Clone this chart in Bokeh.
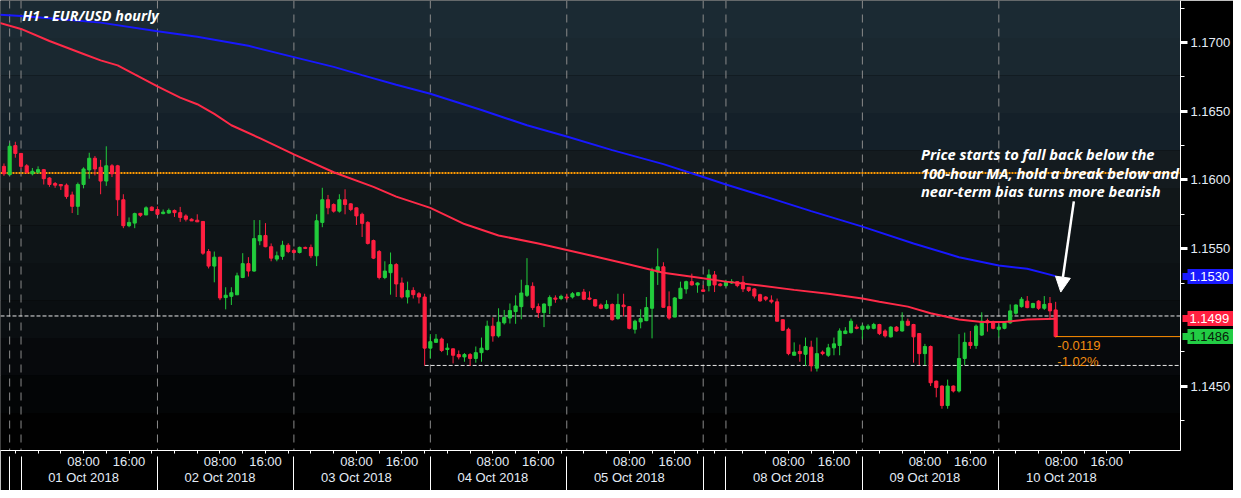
import numpy as np
from bokeh.plotting import figure
from bokeh.models import (Range1d, LinearAxis, FixedTicker, Span, Label, Arrow, NormalHead,
                          ColumnDataSource, NumeralTickFormatter)
from bokeh.core.properties import value
from bokeh.embed import file_html
from bokeh.resources import INLINE

# ---------------- data (hourly EUR/USD, hour index from 01 Oct session start) ----------------
hours = list(range(-3, 183))
opens = [1.16099, 1.16038, 1.16250, 1.16193,
         1.16103, 1.16045, 1.16056, 1.16075, 1.16014, 1.15974, 1.15967, 1.15962, 1.15891, 1.15808,
         1.15967, 1.16073, 1.16158, 1.16092, 1.15992, 1.16103, 1.16103, 1.15856, 1.15667, 1.15686,
         1.15757, 1.15745, 1.15802, 1.15785, 1.15755, 1.15759, 1.15778, 1.15762, 1.15738, 1.15714,
         1.15707, 1.15698, 1.15479, 1.15373, 1.15438, 1.15144, 1.15153, 1.15164, 1.15290, 1.15391,
         1.15337, 1.15557, 1.15596, 1.15514, 1.15424, 1.15444, 1.15525, 1.15486, 1.15472, 1.15509,
         1.15509, 1.15448, 1.15691, 1.15856, 1.15821, 1.15773, 1.15856, 1.15826, 1.15797, 1.15750,
         1.15691, 1.15559, 1.15479, 1.15290, 1.15325, 1.15384, 1.15250, 1.15148, 1.15196, 1.15172,
         1.15148, 1.14776, 1.14818, 1.14842, 1.14766, 1.14771, 1.14729, 1.14712, 1.14729, 1.14701,
         1.14743, 1.14766, 1.14936, 1.14865, 1.14960, 1.14995, 1.15042, 1.15078, 1.15160, 1.15226,
         1.15078, 1.15035, 1.15085, 1.15141, 1.15137, 1.15148, 1.15148, 1.15160, 1.15184, 1.15141,
         1.15129, 1.15090, 1.15066, 1.15094, 1.14991, 1.15090, 1.15078, 1.14913, 1.14967, 1.14976,
         1.15066, 1.15330, 1.15368, 1.15078, 1.15002, 1.15137, 1.15207, 1.15260, 1.15236, 1.15200,
         1.15231, 1.15309, 1.15243, 1.15231, 1.15250, 1.15260, 1.15255, 1.15219, 1.15207, 1.15165,
         1.15148, 1.15125, 1.15113, 1.14983, 1.14913, 1.14724, 1.14752, 1.14731, 1.14783, 1.14630,
         1.14747, 1.14724, 1.14778, 1.14795, 1.14882, 1.14889, 1.14929, 1.14913, 1.14920, 1.14920,
         1.14948, 1.14901, 1.14858, 1.14929, 1.14901, 1.14972, 1.14948, 1.14882, 1.14736, 1.14788,
         1.14536, 1.14500, 1.14358, 1.14500, 1.14464, 1.14701, 1.14818, 1.14795, 1.14871, 1.14976,
         1.14960, 1.14913, 1.14920, 1.14960, 1.15030, 1.15078, 1.15118, 1.15071, 1.15118, 1.15066,
         1.15101, 1.15054]
highs = [1.16120, 1.16268, 1.16278, 1.16195,
         1.16115, 1.16087, 1.16099, 1.16080, 1.16021, 1.15985, 1.15970, 1.15974, 1.15915, 1.15981,
         1.16092, 1.16198, 1.16174, 1.16146, 1.16245, 1.16115, 1.16110, 1.15896, 1.15727, 1.15762,
         1.15760, 1.15808, 1.15808, 1.15808, 1.15785, 1.15792, 1.15785, 1.15804, 1.15750, 1.15721,
         1.15750, 1.15700, 1.15497, 1.15479, 1.15440, 1.15219, 1.15219, 1.15325, 1.15467, 1.15438,
         1.15708, 1.15708, 1.15686, 1.15538, 1.15479, 1.15557, 1.15540, 1.15500, 1.15515, 1.15515,
         1.15530, 1.15750, 1.15943, 1.15891, 1.15830, 1.15896, 1.15932, 1.15830, 1.15800, 1.15762,
         1.15700, 1.15566, 1.15490, 1.15408, 1.15472, 1.15395, 1.15290, 1.15260, 1.15219, 1.15184,
         1.15172, 1.14878, 1.14878, 1.14853, 1.14811, 1.14773, 1.14759, 1.14740, 1.14740, 1.14788,
         1.14853, 1.14976, 1.14999, 1.15066, 1.15054, 1.15101, 1.15160, 1.15274, 1.15431, 1.15255,
         1.15101, 1.15101, 1.15160, 1.15160, 1.15165, 1.15172, 1.15184, 1.15184, 1.15207, 1.15189,
         1.15132, 1.15101, 1.15125, 1.15101, 1.15172, 1.15172, 1.15080, 1.14983, 1.15059, 1.15148,
         1.15361, 1.15502, 1.15401, 1.15189, 1.15148, 1.15260, 1.15267, 1.15318, 1.15255, 1.15236,
         1.15349, 1.15337, 1.15250, 1.15274, 1.15278, 1.15262, 1.15302, 1.15219, 1.15212, 1.15172,
         1.15155, 1.15160, 1.15137, 1.14985, 1.14925, 1.14818, 1.14802, 1.14853, 1.14830, 1.14853,
         1.14759, 1.14807, 1.14853, 1.14920, 1.14929, 1.14991, 1.14948, 1.14948, 1.14950, 1.14960,
         1.14953, 1.14913, 1.14936, 1.14936, 1.15037, 1.14991, 1.14953, 1.14885, 1.14807, 1.14795,
         1.14540, 1.14505, 1.14547, 1.14505, 1.14878, 1.14889, 1.14901, 1.14948, 1.15037, 1.14991,
         1.14976, 1.14948, 1.14972, 1.15094, 1.15094, 1.15148, 1.15155, 1.15106, 1.15125, 1.15155,
         1.15148, 1.15113]
lows = [1.16030, 1.16033, 1.16162, 1.16080,
        1.16045, 1.16033, 1.16045, 1.15967, 1.15950, 1.15943, 1.15927, 1.15863, 1.15759, 1.15745,
        1.15939, 1.16009, 1.16033, 1.15896, 1.15957, 1.16021, 1.15738, 1.15649, 1.15656, 1.15649,
        1.15731, 1.15745, 1.15773, 1.15745, 1.15750, 1.15755, 1.15731, 1.15695, 1.15698, 1.15702,
        1.15695, 1.15455, 1.15356, 1.15255, 1.15125, 1.15058, 1.15090, 1.15164, 1.15285, 1.15297,
        1.15332, 1.15525, 1.15510, 1.15408, 1.15408, 1.15419, 1.15467, 1.15465, 1.15465, 1.15497,
        1.15431, 1.15373, 1.15656, 1.15750, 1.15762, 1.15762, 1.15750, 1.15773, 1.15672, 1.15585,
        1.15530, 1.15424, 1.15276, 1.15278, 1.15165, 1.15148, 1.15137, 1.15101, 1.15137, 1.15101,
        1.14649, 1.14701, 1.14816, 1.14747, 1.14724, 1.14665, 1.14694, 1.14677, 1.14647, 1.14670,
        1.14677, 1.14759, 1.14823, 1.14853, 1.14948, 1.14955, 1.14953, 1.14986, 1.15148, 1.15054,
        1.14995, 1.14929, 1.15024, 1.15106, 1.15125, 1.15125, 1.15137, 1.15153, 1.15125, 1.15125,
        1.15078, 1.15059, 1.15059, 1.14976, 1.14983, 1.15007, 1.14913, 1.14882, 1.14920, 1.14972,
        1.14847, 1.15236, 1.15073, 1.14983, 1.15002, 1.15132, 1.15172, 1.15231, 1.15179, 1.15184,
        1.15189, 1.15184, 1.15225, 1.15224, 1.15243, 1.15219, 1.15184, 1.15184, 1.15137, 1.15113,
        1.15118, 1.15101, 1.14972, 1.14901, 1.14724, 1.14724, 1.14677, 1.14647, 1.14606, 1.14606,
        1.14724, 1.14712, 1.14724, 1.14724, 1.14878, 1.14882, 1.14913, 1.14842, 1.14908, 1.14913,
        1.14871, 1.14853, 1.14853, 1.14896, 1.14896, 1.14936, 1.14670, 1.14653, 1.14653, 1.14500,
        1.14418, 1.14335, 1.14335, 1.14453, 1.14453, 1.14653, 1.14771, 1.14771, 1.14865, 1.14896,
        1.14913, 1.14853, 1.14913, 1.14953, 1.15019, 1.15071, 1.15066, 1.15066, 1.15054, 1.15054,
        1.14983, 1.14853]
closes = [1.16045, 1.16245, 1.16193, 1.16099,
          1.16056, 1.16063, 1.16075, 1.16009, 1.15967, 1.15962, 1.15957, 1.15879, 1.15808, 1.15967,
          1.16080, 1.16158, 1.16080, 1.15992, 1.16103, 1.16045, 1.15856, 1.15667, 1.15691, 1.15755,
          1.15743, 1.15797, 1.15778, 1.15750, 1.15766, 1.15778, 1.15762, 1.15727, 1.15714, 1.15702,
          1.15695, 1.15467, 1.15373, 1.15438, 1.15141, 1.15161, 1.15179, 1.15302, 1.15391, 1.15337,
          1.15573, 1.15596, 1.15514, 1.15431, 1.15448, 1.15525, 1.15479, 1.15472, 1.15509, 1.15502,
          1.15448, 1.15703, 1.15856, 1.15797, 1.15773, 1.15856, 1.15821, 1.15785, 1.15738, 1.15684,
          1.15538, 1.15431, 1.15290, 1.15337, 1.15384, 1.15243, 1.15148, 1.15196, 1.15165, 1.15148,
          1.14776, 1.14823, 1.14842, 1.14759, 1.14776, 1.14724, 1.14712, 1.14729, 1.14701, 1.14743,
          1.14776, 1.14936, 1.14865, 1.14965, 1.15000, 1.15049, 1.15083, 1.15177, 1.15231, 1.15071,
          1.15035, 1.15097, 1.15144, 1.15132, 1.15153, 1.15141, 1.15172, 1.15179, 1.15132, 1.15132,
          1.15083, 1.15066, 1.15094, 1.14983, 1.15094, 1.15078, 1.14920, 1.14972, 1.14991, 1.15071,
          1.15337, 1.15368, 1.15073, 1.14995, 1.15141, 1.15212, 1.15260, 1.15236, 1.15250, 1.15189,
          1.15309, 1.15236, 1.15231, 1.15255, 1.15260, 1.15231, 1.15207, 1.15196, 1.15155, 1.15120,
          1.15132, 1.15113, 1.14972, 1.14906, 1.14736, 1.14747, 1.14736, 1.14788, 1.14647, 1.14736,
          1.14736, 1.14778, 1.14807, 1.14901, 1.14901, 1.14972, 1.14920, 1.14936, 1.14936, 1.14948,
          1.14882, 1.14865, 1.14929, 1.14901, 1.14972, 1.14943, 1.14858, 1.14736, 1.14788, 1.14524,
          1.14489, 1.14358, 1.14500, 1.14464, 1.14701, 1.14818, 1.14795, 1.14936, 1.14972, 1.14960,
          1.14920, 1.14929, 1.14960, 1.15047, 1.15090, 1.15132, 1.15071, 1.15101, 1.15066, 1.15094,
          1.15047, 1.14860]

# 100-hour MA (red) and 200-hour MA (blue)
ma100_t = [-4, 0, 5, 11, 14, 17, 20, 24, 28, 31, 34, 37, 42, 48, 55, 62, 66, 72, 78, 84, 91, 96,
           101, 107, 113, 119, 124, 130, 136, 142, 148, 151, 156, 160, 165, 169, 173, 177, 182]
ma100_v = [1.17146, 1.17099, 1.17011, 1.16917, 1.16870, 1.16834, 1.16768, 1.16681, 1.16599, 1.16551,
           1.16481, 1.16398, 1.16304, 1.16186, 1.16056, 1.15950, 1.15879, 1.15797, 1.15679, 1.15596,
           1.15537, 1.15490, 1.15443, 1.15384, 1.15325, 1.15290, 1.15260, 1.15231, 1.15200, 1.15172,
           1.15137, 1.15113, 1.15078, 1.15030, 1.14984, 1.14967, 1.14967, 1.14984, 1.14990]
ma200_t = [-4, 0, 5, 14, 24, 31, 40, 48, 55, 60, 66, 72, 81, 89, 96, 104, 113, 120, 124, 130, 139,
           148, 157, 165, 172, 177, 182]
ma200_v = [1.17203, 1.17193, 1.17177, 1.17145, 1.17082, 1.17042, 1.16976, 1.16894, 1.16823, 1.16763,
           1.16693, 1.16627, 1.16509, 1.16398, 1.16316, 1.16217, 1.16115, 1.16021, 1.15967, 1.15891,
           1.15773, 1.15660, 1.15537, 1.15438, 1.15377, 1.15354, 1.15300]

session_start = [0, 24, 48, 72, 96, 124, 148, 172]
session_label = ["01 Oct 2018", "02 Oct 2018", "03 Oct 2018", "04 Oct 2018",
                 "05 Oct 2018", "08 Oct 2018", "09 Oct 2018", "10 Oct 2018"]
day_breaks = [-2, 0, 24, 48, 72, 96, 120, 124, 148, 172]
price_ticks = [1.1450, 1.1550, 1.1600, 1.1650, 1.1700]
price_minor = [1.1425, 1.1475, 1.1525, 1.1575, 1.1625, 1.1675, 1.1725]
ref_close = 1.1605          # orange dotted reference level
resistance = 1.1501         # white dashed level
support = 1.1465            # white dashed level from 04 Oct low
support_from = 71
change_text = ["-0.0119", "-1.02%"]
title = "H1 - EUR/USD hourly"
note = ["Price starts to fall back below the",
        "100-hour MA, hold a break below and",
        "near-term bias turns more bearish"]

# ---------------- figure ----------------
X0, X1 = -3.61, 203.96
Y0, Y1 = 1.14031, 1.17306
W, H = 1233, 490
p = figure(width=W, height=H, output_backend="svg", toolbar_location=None,
           x_range=Range1d(X0, X1), y_range=Range1d(Y0, Y1),
           x_axis_location=None, y_axis_location="right",
           min_border_left=0, min_border_top=0, min_border_right=51, min_border_bottom=34,
           background_fill_color="black", border_fill_color="black", outline_line_color=None)
p.grid.visible = False

# background gradient bands
band_colors = ["#1b2a33", "#1a2830", "#18242c", "#142029", "#141b1f", "#111719",
               "#0e1417", "#0c1114", "#0a0e11", "#07090c", "#030506", "#010101"]
edges = np.linspace(Y1, Y0, len(band_colors) + 1)
bg = p.quad(left=X0 - 5, right=X1 + 5, top=edges[:-1], bottom=edges[1:],
            fill_color=band_colors, line_color=None)
bg.level = "image"

for b in day_breaks:
    p.add_layout(Span(location=b, dimension="height", line_color="#8a8a8a",
                      line_dash="8 6", line_width=1, level="underlay"))

p.add_layout(Span(location=ref_close, dimension="width", line_color="#ff9a00",
                  line_dash="2 1", line_width=2, level="underlay"))
p.add_layout(Span(location=resistance, dimension="width", line_color="#e8e8e8",
                  line_dash="4 2", line_width=1, level="underlay"))
p.segment(x0=[support_from], y0=[support], x1=[X1 + 5], y1=[support],
          line_color="#e8e8e8", line_dash="4 2", line_width=1)

# candles
up = [c >= o for o, c in zip(opens, closes)]
src = ColumnDataSource(dict(
    t=hours, o=opens, h=highs, l=lows, c=closes,
    top=[max(o, c) for o, c in zip(opens, closes)],
    bottom=[min(o, c) for o, c in zip(opens, closes)],
    color=["#22cc3c" if u else "#ff1f40" for u in up]))
p.segment(x0="t", y0="h", x1="t", y1="l", line_color="color", line_width=1, source=src)
p.vbar(x="t", width=0.55, top="top", bottom="bottom", fill_color="color",
       line_color="color", line_width=1, source=src)

# moving averages
p.line(ma200_t, ma200_v, line_color="#1818ff", line_width=2)
p.line(ma100_t, ma100_v, line_color="#ff2a48", line_width=2)

# last price line
p.segment(x0=[hours[-1]], y0=[closes[-1]], x1=[X1 + 5], y1=[closes[-1]],
          line_color="#ff8c00", line_width=1)

# texts
p.add_layout(Label(x=0.2, y=1.17200, text=title, text_color="white",
                   text_font="Open Sans", text_font_style="bold italic",
                   text_font_size="14.3px", text_baseline="middle", text_align="left"))
p.text(x=[158.3] * 3, y=[1.16188, 1.16054, 1.15923], text=note, text_color="white",
       text_font=value("Open Sans"), text_font_style="bold italic", text_font_size="14.7px",
       text_baseline="middle", text_align="left")
p.text(x=[182.3, 182.3], y=[1.14795, 1.14682], text=change_text, text_color="#f08c10",
       text_font=value("Liberation Sans"), text_font_size="13px",
       text_baseline="middle", text_align="left")

p.add_layout(Arrow(x_start=185.2, y_start=1.15844, x_end=182.9, y_end=1.15184,
                   line_color="white", line_width=2.5,
                   end=NormalHead(size=15, fill_color="white", line_color="white")))

# right price axis
ya = p.yaxis[0]
ya.ticker = FixedTicker(ticks=price_ticks, minor_ticks=price_minor)
ya.formatter = NumeralTickFormatter(format="0.0000")
ya.axis_line_color = "white"
ya.major_tick_line_color = "white"
ya.major_tick_line_width = 3
ya.major_tick_out = 7
ya.major_tick_in = 0
ya.minor_tick_line_color = "white"
ya.minor_tick_out = 4
ya.minor_tick_in = 0
ya.major_label_standoff = 3
ya.major_label_text_color = "#e4ecf6"
ya.major_label_text_font = "Liberation Sans"
ya.major_label_text_font_size = "13px"

# coloured value tags (200h MA, 100h MA, last price) as zero-width extra right-hand axes;
# the major tick is the tag box, the (longer, thinner) minor tick forms its pointed end
tags = [(ma200_v[-1], "#1a1aff", "white"),
        (ma100_v[-1], "#ff2040", "white"),
        (closes[-1], "#22cc44", "#08200a")]
for v, fill, tc in tags:
    ta = LinearAxis(ticker=FixedTicker(ticks=[v], minor_ticks=[v]),
                    formatter=NumeralTickFormatter(format="0.0000"),
                    axis_line_color=None,
                    minor_tick_line_color=fill, minor_tick_line_width=7,
                    minor_tick_out=0, minor_tick_in=51,
                    major_tick_line_color=fill, major_tick_line_width=15,
                    major_tick_in=46, major_tick_out=0,
                    major_label_standoff=-44, major_label_text_color=tc,
                    major_label_text_font="Liberation Sans", major_label_text_font_size="13px")
    p.add_layout(ta, "right")

# time axis
ticks, overrides = [], {}
for s, lab in zip(session_start, session_label):
    ticks += [s + 11, s + 19]
    overrides[s + 11] = "08:00\n" + lab
    overrides[s + 19] = "16:00"
minor = [s + h for s in session_start for h in (3, 7, 15, 23)] + [-1, 122]
xa = LinearAxis(ticker=FixedTicker(ticks=ticks, minor_ticks=minor),
                major_label_overrides=overrides,
                axis_line_color="white", major_tick_line_color="white",
                major_tick_out=3, major_tick_in=0,
                minor_tick_line_color="white", minor_tick_out=3, minor_tick_in=0,
                major_label_standoff=0, major_label_text_color="#e4ecf6",
                major_label_text_line_height=1.1,
                major_label_text_font="Liberation Sans", major_label_text_font_size="13px")
p.add_layout(xa, "below")
sep = LinearAxis(ticker=FixedTicker(ticks=day_breaks, minor_ticks=[]),
                 major_label_overrides={b: "" for b in day_breaks},
                 axis_line_color=None, major_tick_line_color="white",
                 major_tick_out=2, major_tick_in=32, minor_tick_line_color=None,
                 minor_tick_out=0, minor_tick_in=0,
                 major_label_standoff=0, major_label_text_font_size="0px")
p.add_layout(sep, "below")

open("out.html", "w").write(file_html(p, INLINE))
